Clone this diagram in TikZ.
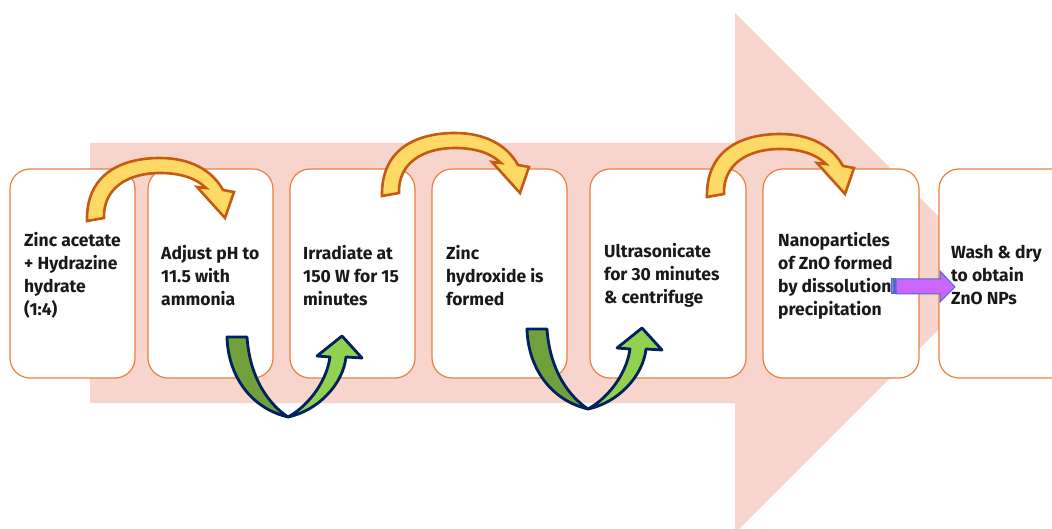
\documentclass[tikz,border=0pt]{standalone}
\usepackage{fontspec}
\setmainfont{Fira Sans}
\usetikzlibrary{positioning}

\definecolor{salmon}{HTML}{F8D5CC}
\definecolor{boxorange}{HTML}{E9803E}
\definecolor{arcyellow}{HTML}{FFD966}
\definecolor{arcedge}{HTML}{C55A11}
\definecolor{darkleaf}{HTML}{6FA03C}
\definecolor{lightleaf}{HTML}{92D050}
\definecolor{navy}{HTML}{002060}
\definecolor{violet}{HTML}{CC66FF}
\definecolor{stripeblue}{HTML}{4472C4}

\begin{document}
\begin{tikzpicture}[
  x=1pt, y=-1pt,
  stepbox/.style={draw=boxorange, line width=1.2pt, fill=white, rounded corners=20pt,
    minimum height=209pt, inner sep=0pt, outer sep=0pt},
  steptext/.style={align=left, inner sep=0pt, yshift=-2pt,
    font=\fontsize{17.5}{23}\selectfont\bfseries, text=black!90},
  yellowarc/.style={fill=arcyellow, draw=arcedge, line width=2.6pt},
  greenback/.style={fill=darkleaf, draw=navy, line width=2.8pt, line join=round},
  greenfront/.style={fill=lightleaf, draw=navy, line width=2.8pt, line join=round},
  purplearrow/.style={fill=violet, draw=stripeblue, line width=1pt},
  bigarrow/.style={fill=salmon}
]

\useasboundingbox (0,0) rectangle (1052,529);

% background arrow
\fill[bigarrow] (90,143) -- (735,143) -- (735,13) -- (995,273) -- (735,533)
  -- (735,403) -- (90,403) -- cycle;

% steps
\node[stepbox, minimum width=125pt, anchor=north west] (b1) at (10,169) {};
\node[stepbox, minimum width=125pt, right=13pt of b1] (b2) {};
\node[stepbox, minimum width=125pt, right=17pt of b2] (b3) {};
\node[stepbox, minimum width=135pt, right=17pt of b3] (b4) {};
\node[stepbox, minimum width=156pt, right=23pt of b4] (b5) {};
\node[stepbox, minimum width=156pt, right=17pt of b5] (b6) {};
\node[stepbox, minimum width=140pt, right=20pt of b6] (b7) {};

\node[steptext, right=14pt of b1.west] (t1) {Zinc acetate\\+ Hydrazine\\hydrate\\(1:4)};
\node[steptext, right=13pt of b2.west] (t2) {Adjust pH to\\11.5 with\\ammonia};
\node[steptext, right=13pt of b3.west] (t3) {Irradiate at\\150 W for 15\\minutes};
\node[steptext, right=14pt of b4.west] (t4) {Zinc\\hydroxide is\\formed};
\node[steptext, right=14pt of b5.west] (t5) {Ultrasonicate\\for 30 minutes\\\& centrifuge};
\node[steptext, right=15pt of b6.west] (t6) {Nanoparticles\\of ZnO formed\\by dissolution\\precipitation};
\node[steptext, right=12pt of b7.west] (t7) {Wash \& dry\\to obtain\\ZnO NPs};

% curved arrows over the tops
\foreach \dx/\dy in {0/0, 295/-25, 620/-24} {
  \draw[yellowarc, shift={(\dx,\dy)}] (87,221) .. controls (86,175) and (120,158) .. (160,158)
    .. controls (190,158) and (212,170) .. (223,190) -- (234,192) -- (225,218) -- (197,187)
    -- (206,188) .. controls (196,178) and (180,173) .. (160,173)
    .. controls (128,173) and (103,188) .. (104,218) -- cycle;
}

% u-turn arrows under the bottoms
\foreach \dx/\dy in {0/0, 300/-8} {
  \begin{scope}[shift={(\dx,\dy)}]
    \draw[greenback] (227,337) .. controls (228,375) and (250,408) .. (288,417)
      .. controls (270,405) and (250,380) .. (247,337) -- cycle;
    \draw[greenfront] (288,417) .. controls (317,411) and (343,385) .. (346,357)
      -- (362,358) -- (342,336) -- (317,356) -- (330,357)
      .. controls (326,385) and (305,408) .. (288,417) -- cycle;
  \end{scope}
}

% last step arrow
\draw[purplearrow] (896,279) -- (940,279) -- (940,271) -- (955,287) -- (940,302)
  -- (940,294) -- (896,294) -- cycle;
\draw[purplearrow] (891.5,279) rectangle (893,294);
\draw[purplearrow] (894,279) rectangle (895,294);

\end{tikzpicture}
\end{document}
